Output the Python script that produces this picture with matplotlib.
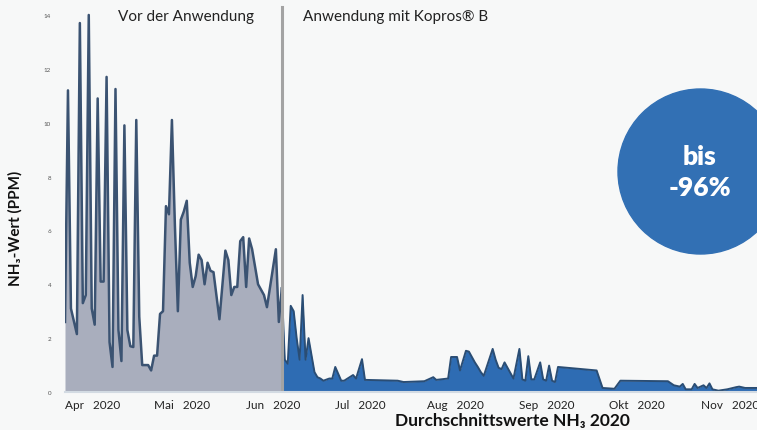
import pandas as pd
import matplotlib.pyplot as plt
from matplotlib.patches import Circle

plt.rcParams['font.family'] = ['Lato', 'DejaVu Sans']

# NH3-Werte vor der Anwendung (Tag, ppm)
vor_tage = ['04-01', '04-02', '04-03', '04-05', '04-06', '04-07', '04-08', '04-09', '04-10',
            '04-11', '04-12', '04-13', '04-14', '04-15', '04-16', '04-17', '04-18', '04-19',
            '04-20', '04-21', '04-22', '04-23', '04-24', '04-25', '04-26', '04-27', '04-28',
            '04-29', '04-30', '05-01', '05-02', '05-03', '05-04', '05-05', '05-06', '05-07',
            '05-08', '05-09', '05-10', '05-11', '05-12', '05-13', '05-14', '05-15', '05-16',
            '05-17', '05-18', '05-19', '05-20', '05-21', '05-23', '05-25', '05-26', '05-27',
            '05-28', '05-29', '05-30', '05-31', '06-01', '06-02', '06-03', '06-05', '06-07',
            '06-08', '06-11', '06-12', '06-13']
vor_werte = [2.6, 11.2, 3.1, 2.15, 13.7, 3.3, 3.6, 14.0, 3.1,
             2.5, 10.9, 4.1, 4.1, 11.7, 1.85, 0.93, 11.25, 2.3,
             1.15, 9.9, 2.3, 1.7, 1.67, 10.1, 2.8, 1.0, 1.0,
             1.0, 0.8, 1.35, 1.35, 2.9, 3.0, 6.9, 6.6, 10.1,
             6.2, 3.0, 6.4, 6.7, 7.1, 4.8, 3.9, 4.3, 5.1,
             4.9, 4.0, 4.8, 4.5, 4.45, 2.7, 5.25, 4.9, 3.6,
             3.9, 3.9, 5.6, 5.75, 3.9, 5.7, 5.3, 4.0, 3.6,
             3.15, 5.3, 2.6, 3.85]

# NH3-Werte mit Kopros B
mit_tage = ['06-13', '06-14', '06-15', '06-16', '06-17', '06-18', '06-19', '06-20', '06-21',
            '06-22', '06-24', '06-25', '06-26', '06-27', '06-29', '06-30', '07-01', '07-03',
            '07-04', '07-07', '07-08', '07-10', '07-11', '07-22', '07-24', '07-31', '08-03',
            '08-04', '08-08', '08-09', '08-11', '08-12', '08-14', '08-15', '08-17', '08-18',
            '08-19', '08-20', '08-23', '08-24', '08-25', '08-26', '08-27', '08-28', '08-29',
            '08-30', '09-01', '09-02', '09-03', '09-04', '09-05', '09-06', '09-08', '09-09',
            '09-10', '09-11', '09-12', '09-13', '09-14', '09-27', '09-29', '10-03', '10-05',
            '10-21', '10-23', '10-25', '10-26', '10-27', '10-29', '10-30', '10-31', '11-02',
            '11-03', '11-04', '11-05', '11-07', '11-10', '11-13', '11-14', '11-16', '11-20']
mit_werte = [3.85, 1.2, 1.05, 3.2, 3.0, 2.0, 1.2, 3.6, 1.2,
             2.0, 0.74, 0.55, 0.5, 0.42, 0.5, 0.5, 0.93, 0.42,
             0.42, 0.63, 0.5, 1.22, 0.45, 0.42, 0.37, 0.4, 0.55,
             0.45, 0.5, 1.3, 1.3, 0.8, 1.53, 1.5, 1.1, 0.93,
             0.74, 0.6, 1.6, 1.2, 0.9, 0.85, 1.1, 0.9, 0.7,
             0.5, 1.6, 0.47, 0.42, 1.33, 0.47, 0.47, 1.1, 0.47,
             0.42, 0.98, 0.42, 0.37, 0.93, 0.8, 0.15, 0.12, 0.42,
             0.4, 0.25, 0.2, 0.3, 0.1, 0.1, 0.3, 0.15, 0.25,
             0.15, 0.32, 0.1, 0.05, 0.1, 0.18, 0.2, 0.15, 0.15]

monate = ['Apr', 'Mai', 'Jun', 'Jul', 'Aug', 'Sep', 'Okt', 'Nov']

vor_x = pd.to_datetime(['2020-' + t for t in vor_tage])
mit_x = pd.to_datetime(['2020-' + t for t in mit_tage])
start = pd.Timestamp('2020-06-13')

bg = '#f7f8f8'
fig = plt.figure(figsize=(7.57, 4.31), dpi=100, facecolor=bg)
ax = fig.add_axes([65 / 757, 38 / 431, 1 - 65 / 757, 390.5 / 431])
ax.set_facecolor(bg)

ax.fill_between(vor_x, vor_werte, color='#a9aebd', lw=0)
ax.plot(vor_x, vor_werte, color='#3b5372', lw=1.8)
ax.fill_between(mit_x, mit_werte, color='#2e6cb3', lw=0)
ax.plot(mit_x, mit_werte, color='#2a4d74', lw=1.4)

ax.axvline(start, ymin=0, ymax=0.985, color='#a3a3a3', lw=2.2)

ax.set_ylim(0, 14.5)
ax.set_xlim(pd.Timestamp('2020-04-01'), pd.Timestamp('2020-11-20'))
ax.set_yticks(range(0, 15, 2))
ax.tick_params(axis='y', length=0, labelsize=4.5, labelcolor='#555555', pad=10)

ticks = pd.date_range('2020-04-01', periods=len(monate), freq='MS')
ax.set_xticks(ticks)
ax.set_xticklabels([m + '   2020' for m in monate])
ax.tick_params(axis='x', length=0, labelsize=8.5, labelcolor='#222222', pad=5)
for lbl in ax.get_xticklabels():
    lbl.set_ha('left')

for s in ['top', 'right', 'left']:
    ax.spines[s].set_visible(False)
ax.spines['bottom'].set_color('#d3dbe3')
ax.spines['bottom'].set_linewidth(1.5)

ax.text(pd.Timestamp('2020-04-19'), 13.95, 'Vor der Anwendung', fontsize=11,
        color='#222222', va='center')
ax.text(pd.Timestamp('2020-06-20'), 13.95, 'Anwendung mit Kopros® B', fontsize=11,
        color='#222222', va='center')

fig.text(15 / 757, 1 - 228 / 431, 'NH₃-Wert (PPM)', rotation=90, fontsize=11,
         fontweight='bold', ha='center', va='center', color='#111111')
fig.text(512 / 757, 1 - 421 / 431, 'Durchschnittswerte NH₃ 2020', fontsize=12.5,
         fontweight='bold', ha='center', va='center', color='#111111')

kreis = Circle((7.005, (431 - 172.5) / 100), 0.825, transform=fig.dpi_scale_trans,
               color='#3270b4', zorder=5)
fig.patches.append(kreis)
fig.text(700 / 757, 1 - 157 / 431, 'bis', fontsize=19, fontweight='heavy',
         color='white', ha='center', va='center', zorder=6)
fig.text(700 / 757, 1 - 188 / 431, '-96%', fontsize=19, fontweight='heavy',
         color='white', ha='center', va='center', zorder=6)

fig.savefig('out.png', dpi=100, facecolor=bg)
